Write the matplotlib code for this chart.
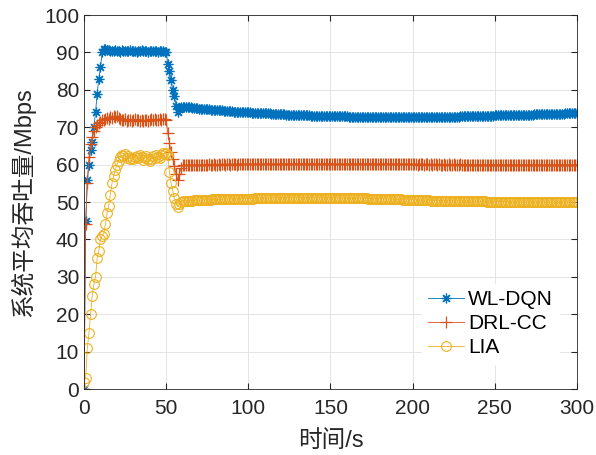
import numpy as np
import matplotlib.pyplot as plt

plt.rcParams['font.family'] = ['Liberation Sans', 'Noto Sans CJK SC']

# time axis, 1 s steps
t = np.arange(0, 301)

# WL-DQN, 0-60 s
wl_head = [0, 45, 56, 60, 64, 66, 70, 74, 79, 83,
           86, 90, 91, 90.8, 90.6, 90.7, 90.4, 90.5, 90.3, 90.6,
           90.4, 90.5, 90.2, 90.6, 90.4, 90.3, 90.5, 90.4, 90.6, 90.3,
           90.5, 90.4, 90.2, 90.5, 90.3, 90.6, 90.4, 90.3, 90.5, 90.2,
           90.4, 90.3, 90.5, 90.3, 90.4, 90.2, 90.5, 90.3, 90.4, 90.1,
           90.2, 87, 85, 82.5, 80, 78.3, 75.8, 74, 74.8, 75.3,
           75.5]
# WL-DQN, 61-300 s
wl_tail = [75.5, 75.4, 75.4, 75.3, 75.3, 75.2, 75.2, 75.1, 75.1, 75.0, 75.0, 74.9, 74.9, 74.8, 74.8, 74.8, 74.7, 74.7, 74.6, 74.6,
           74.6, 74.5, 74.5, 74.5, 74.4, 74.4, 74.4, 74.3, 74.3, 74.3, 74.2, 74.2, 74.2, 74.1, 74.1, 74.1, 74.1, 74.0, 74.0, 74.0,
           74.0, 73.9, 73.9, 73.9, 73.9, 73.8, 73.8, 73.8, 73.8, 73.7, 73.7, 73.7, 73.7, 73.6, 73.6, 73.6, 73.6, 73.5, 73.5, 73.5,
           73.5, 73.5, 73.4, 73.4, 73.4, 73.4, 73.4, 73.3, 73.3, 73.3, 73.3, 73.3, 73.2, 73.2, 73.2, 73.2, 73.2, 73.1, 73.1, 73.1,
           73.1, 73.1, 73.1, 73.0, 73.0, 73.0, 73.0, 73.0, 73.0, 73.0, 72.9, 72.9, 72.9, 72.9, 72.9, 72.9, 72.9, 72.9, 72.9, 72.9,
           72.8, 72.8, 72.8, 72.8, 72.8, 72.8, 72.8, 72.8, 72.8, 72.8, 72.7, 72.7, 72.7, 72.7, 72.7, 72.7, 72.7, 72.7, 72.7, 72.7,
           72.7, 72.7, 72.6, 72.6, 72.6, 72.6, 72.6, 72.6, 72.6, 72.6, 72.6, 72.6, 72.6, 72.6, 72.6, 72.6, 72.6, 72.6, 72.6, 72.6,
           72.6, 72.6, 72.6, 72.6, 72.6, 72.6, 72.7, 72.7, 72.7, 72.7, 72.7, 72.7, 72.7, 72.7, 72.7, 72.7, 72.7, 72.7, 72.7, 72.7,
           72.8, 72.8, 72.8, 72.8, 72.8, 72.8, 72.8, 72.8, 72.9, 72.9, 72.9, 72.9, 72.9, 72.9, 72.9, 73.0, 73.0, 73.0, 73.0, 73.0,
           73.0, 73.0, 73.1, 73.1, 73.1, 73.1, 73.1, 73.1, 73.1, 73.2, 73.2, 73.2, 73.2, 73.2, 73.2, 73.2, 73.2, 73.3, 73.3, 73.3,
           73.3, 73.3, 73.3, 73.3, 73.3, 73.4, 73.4, 73.4, 73.4, 73.4, 73.4, 73.4, 73.4, 73.5, 73.5, 73.5, 73.5, 73.5, 73.5, 73.5,
           73.5, 73.5, 73.5, 73.6, 73.6, 73.6, 73.6, 73.6, 73.6, 73.6, 73.6, 73.6, 73.7, 73.7, 73.7, 73.7, 73.7, 73.7, 73.7, 73.7]

# DRL-CC, 0-60 s
drl_head = [0, 44, 55, 62, 65.5, 67.5, 69, 70, 70.5, 71,
            71.3, 71.8, 72, 72.3, 72.5, 72.2, 72.7, 72.4, 72.9, 72.6,
            73, 72.5, 72.2, 71.8, 71.9, 72.1, 71.7, 72, 71.8, 71.6,
            71.9, 72.1, 71.8, 72, 71.7, 71.9, 71.6, 71.8, 72, 71.7,
            71.9, 72.1, 71.8, 72.2, 71.9, 72, 72.2, 71.9, 72.1, 72.3,
            72, 68.4, 65.7, 63.5, 61.5, 59.5, 57.5, 55.9, 57.5, 59,
            59.8]
# DRL-CC, 61-300 s
drl_tail = [59.8, 59.9, 59.8, 59.9, 59.9, 60.0, 59.9, 59.9, 60.0, 59.9, 60.0, 60.0, 59.9, 60.0, 60.0, 60.1, 60.0, 60.0, 60.1, 60.0,
            60.0, 60.1, 60.0, 60.1, 60.1, 60.0, 60.1, 60.1, 60.0, 60.1, 60.1, 60.1, 60.0, 60.1, 60.1, 60.2, 60.1, 60.1, 60.1, 60.2,
            60.1, 60.1, 60.2, 60.1, 60.1, 60.2, 60.1, 60.2, 60.1, 60.2, 60.2, 60.1, 60.2, 60.1, 60.2, 60.2, 60.1, 60.2, 60.2, 60.1,
            60.2, 60.2, 60.1, 60.2, 60.2, 60.2, 60.1, 60.2, 60.2, 60.1, 60.2, 60.2, 60.2, 60.1, 60.2, 60.2, 60.1, 60.2, 60.2, 60.2,
            60.1, 60.2, 60.2, 60.1, 60.2, 60.2, 60.2, 60.1, 60.2, 60.2, 60.1, 60.2, 60.2, 60.1, 60.2, 60.2, 60.2, 60.1, 60.2, 60.2,
            60.1, 60.2, 60.2, 60.1, 60.2, 60.1, 60.2, 60.2, 60.1, 60.2, 60.1, 60.2, 60.1, 60.2, 60.2, 60.1, 60.2, 60.1, 60.1, 60.2,
            60.1, 60.2, 60.1, 60.1, 60.2, 60.1, 60.1, 60.2, 60.1, 60.1, 60.1, 60.2, 60.1, 60.1, 60.1, 60.1, 60.2, 60.1, 60.1, 60.1,
            60.1, 60.1, 60.0, 60.1, 60.1, 60.1, 60.0, 60.1, 60.1, 60.0, 60.1, 60.0, 60.1, 60.1, 60.0, 60.1, 60.0, 60.0, 60.1, 60.0,
            60.0, 60.1, 60.0, 60.0, 60.1, 60.0, 60.0, 60.0, 60.1, 60.0, 60.0, 60.0, 60.0, 59.9, 60.0, 60.0, 60.0, 59.9, 60.0, 60.0,
            60.0, 59.9, 60.0, 60.0, 59.9, 60.0, 60.0, 59.9, 60.0, 60.0, 59.9, 60.0, 59.9, 60.0, 60.0, 59.9, 60.0, 59.9, 60.0, 60.0,
            59.9, 60.0, 59.9, 60.0, 60.0, 59.9, 60.0, 59.9, 60.0, 59.9, 60.0, 60.0, 59.9, 60.0, 59.9, 60.0, 59.9, 60.0, 60.0, 59.9,
            60.0, 59.9, 60.0, 59.9, 60.0, 60.0, 59.9, 60.0, 59.9, 60.0, 60.0, 59.9, 60.0, 59.9, 60.0, 60.0, 59.9, 60.0, 59.9, 60.0]

# LIA, 0-60 s
lia_head = [2, 3, 11, 15, 20, 25, 28, 30, 35, 37,
            40, 41, 41.5, 44, 47, 49, 52, 55, 57, 58.5,
            60, 61, 62, 62.5, 62.2, 62.8, 61.9, 62.3, 61.5, 61.8,
            61.4, 62, 62.4, 61.7, 62.6, 62.1, 61.3, 61.8, 62.2, 61.5,
            61, 61.6, 62.3, 61.8, 62.5, 62, 61.7, 62.6, 63, 62.8,
            63.2, 62.5, 58, 55, 53, 51, 49.5, 48.8, 49.5, 50.1,
            50.3]
# LIA, 61-300 s
lia_tail = [50.3, 50.3, 50.4, 50.4, 50.4, 50.4, 50.5, 50.5, 50.5, 50.5, 50.5, 50.6, 50.6, 50.6, 50.6, 50.6, 50.6, 50.7, 50.7, 50.7,
            50.7, 50.7, 50.7, 50.7, 50.8, 50.8, 50.8, 50.8, 50.8, 50.8, 50.8, 50.8, 50.9, 50.9, 50.9, 50.9, 50.9, 50.9, 50.9, 50.9,
            50.9, 50.9, 50.9, 51.0, 51.0, 51.0, 51.0, 51.0, 51.0, 51.0, 51.0, 51.0, 51.0, 51.0, 51.0, 51.1, 51.1, 51.1, 51.1, 51.1,
            51.1, 51.1, 51.1, 51.1, 51.1, 51.1, 51.1, 51.1, 51.1, 51.1, 51.1, 51.1, 51.1, 51.1, 51.1, 51.1, 51.1, 51.1, 51.1, 51.1,
            51.1, 51.1, 51.1, 51.1, 51.1, 51.1, 51.1, 51.1, 51.1, 51.1, 51.1, 51.1, 51.1, 51.1, 51.0, 51.0, 51.0, 51.0, 51.0, 51.0,
            51.0, 51.0, 51.0, 51.0, 51.0, 51.0, 51.0, 51.0, 51.0, 51.0, 51.0, 51.0, 50.9, 50.9, 50.9, 50.9, 50.9, 50.9, 50.9, 50.9,
            50.9, 50.9, 50.8, 50.8, 50.8, 50.8, 50.8, 50.7, 50.7, 50.7, 50.7, 50.7, 50.7, 50.6, 50.6, 50.6, 50.6, 50.6, 50.6, 50.6,
            50.6, 50.6, 50.5, 50.5, 50.5, 50.5, 50.5, 50.5, 50.5, 50.5, 50.4, 50.4, 50.4, 50.4, 50.4, 50.4, 50.4, 50.4, 50.4, 50.4,
            50.4, 50.3, 50.3, 50.3, 50.3, 50.3, 50.3, 50.3, 50.3, 50.3, 50.3, 50.2, 50.2, 50.2, 50.2, 50.2, 50.2, 50.2, 50.2, 50.2,
            50.2, 50.2, 50.2, 50.2, 50.1, 50.1, 50.1, 50.1, 50.1, 50.1, 50.1, 50.1, 50.1, 50.1, 50.1, 50.1, 50.1, 50.1, 50.1, 50.0,
            50.0, 50.0, 50.0, 50.0, 50.0, 50.0, 50.0, 50.0, 50.0, 50.0, 50.0, 50.0, 50.0, 50.0, 50.0, 50.0, 50.0, 50.0, 50.0, 50.0,
            50.0, 49.9, 50.0, 49.9, 50.0, 49.9, 50.0, 50.0, 49.9, 50.0, 49.9, 50.0, 49.9, 50.0, 50.0, 49.9, 50.0, 49.9, 50.0, 50.0]

wl = wl_head + wl_tail
drl = drl_head + drl_tail
lia = lia_head + lia_tail

fig = plt.figure(figsize=(5.96, 4.55), dpi=100)
ax = fig.add_axes([0.141, 0.145, 0.827, 0.822])

ax.plot(t, wl, color='#0072BD', lw=0.6, marker=(8, 2, 0), ms=7, mew=0.9, label='WL-DQN')
ax.plot(t, drl, color='#D95319', lw=0.6, marker='+', ms=8, mew=0.9, label='DRL-CC')
ax.plot(t, lia, color='#EDB120', lw=0.6, marker='o', ms=7, mew=0.8, mfc='none', label='LIA')

ax.set_xlim(0, 300)
ax.set_ylim(0, 100)
ax.set_xticks(np.arange(0, 301, 50))
ax.set_yticks(np.arange(0, 101, 10))
ax.grid(True, color='#dfdfdf', lw=0.6)
ax.set_axisbelow(True)
ax.tick_params(direction='in', top=True, right=True, labelsize=15, colors='#262626', length=4)
ax.tick_params(axis='x', pad=7)
for s in ax.spines.values():
    s.set_color('#262626')
    s.set_linewidth(0.6)

ax.set_xlabel('时间/s', fontsize=17, color='#262626', labelpad=9)
ax.set_ylabel('系统平均吞吐量/Mbps', fontsize=17, color='#262626', labelpad=6)

leg = ax.legend(loc='lower right', bbox_to_anchor=(0.985, 0.04), fontsize=15, numpoints=1,
                handlelength=1.7, handletextpad=0.2, labelspacing=0.25, borderpad=0.3,
                fancybox=False, framealpha=1, edgecolor='white')

fig.savefig('out.png', dpi=100)
